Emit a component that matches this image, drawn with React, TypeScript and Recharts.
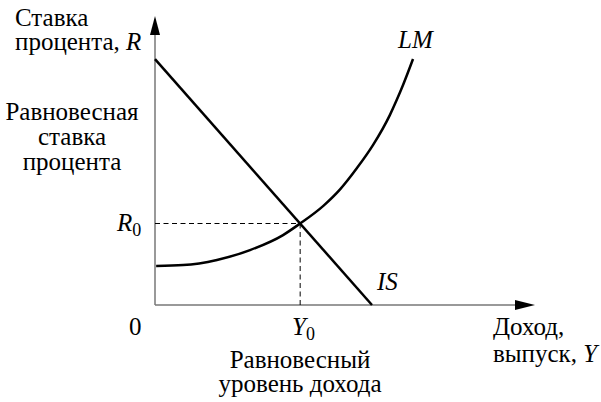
import React from 'react';
import { LineChart, Line, XAxis, YAxis, ReferenceLine, ReferenceDot } from 'recharts';

// Curve data (income Y on x, interest rate R on y)
const isIncome = [0, 5.71];
const isRate = [8.51, 0];
const lmIncome = [0.03, 0.74, 1.63, 2.5, 3.37, 3.82, 4.43, 4.87, 5.31, 5.74, 6.18, 6.36, 6.53, 6.79];
const lmRate = [1.35, 1.38, 1.56, 1.9, 2.42, 2.82, 3.43, 4.0, 4.73, 5.54, 6.57, 7.09, 7.62, 8.51];
const equilibriumY = 3.82;
const equilibriumR = 2.82;
const axisMax = 10;

const isData = isIncome.map((x, i) => ({ x, y: isRate[i] }));
const lmData = lmIncome.map((x, i) => ({ x, y: lmRate[i] }));

const W = 601;
const H = 402;
const FS = 25;

const UpArrow = (props: any) => {
  const { cx, cy } = props;
  return <polygon points={`${cx},${cy} ${cx - 5},${cy + 19} ${cx + 5},${cy + 19}`} fill="#000" />;
};
const RightArrow = (props: any) => {
  const { cx, cy } = props;
  return <polygon points={`${cx},${cy} ${cx - 20},${cy - 5} ${cx - 20},${cy + 5}`} fill="#000" />;
};

const it: React.CSSProperties = { fontStyle: 'italic' };
const sub: React.CSSProperties = { fontSize: 18, position: 'relative', top: 5 };

// baseline-positioned HTML label
const L = ({ x, y, center, children, style }: any) => (
  <div
    style={{
      position: 'absolute',
      left: x,
      top: y - 21,
      fontFamily: '"Liberation Serif"',
      fontSize: FS,
      lineHeight: `${FS}px`,
      whiteSpace: 'nowrap',
      color: '#000',
      transform: center ? 'translateX(-50%)' : undefined,
      ...(style || {}),
    }}
  >
    {children}
  </div>
);

export default function App() {
  return (
    <div style={{ position: 'absolute', left: 0, top: 0, width: W, height: H, background: '#fff' }}>
      <LineChart width={W} height={H} margin={{ top: 16, right: 66, bottom: 97, left: 155 }}>
        <XAxis type="number" dataKey="x" domain={[0, axisMax]} hide />
        <YAxis type="number" dataKey="y" domain={[0, axisMax]} hide />
        <ReferenceLine segment={[{ x: 0, y: 0 }, { x: axisMax - 0.3, y: 0 }]} stroke="#777" strokeWidth={1.5} ifOverflow="visible" />
        <ReferenceLine segment={[{ x: 0, y: 0 }, { x: 0, y: axisMax - 0.3 }]} stroke="#777" strokeWidth={1.5} ifOverflow="visible" />
        <ReferenceLine segment={[{ x: 0, y: equilibriumR }, { x: equilibriumY, y: equilibriumR }]} stroke="#000" strokeWidth={1} strokeDasharray="5 3.5" ifOverflow="visible" />
        <ReferenceLine segment={[{ x: equilibriumY, y: 0 }, { x: equilibriumY, y: equilibriumR }]} stroke="#000" strokeWidth={1} strokeDasharray="5 3.5" ifOverflow="visible" />
        <ReferenceDot x={0} y={axisMax} r={0} shape={UpArrow} ifOverflow="visible" />
        <ReferenceDot x={axisMax} y={0} r={0} shape={RightArrow} ifOverflow="visible" />
        <Line data={isData} dataKey="y" type="linear" stroke="#000" strokeWidth={2.5} dot={false} isAnimationActive={false} />
        <Line data={lmData} dataKey="y" type="monotone" stroke="#000" strokeWidth={2.5} dot={false} isAnimationActive={false} />
      </LineChart>
      <L x={15} y={26}>Ставка</L>
      <L x={15} y={50}>процента, <span style={it}>R</span></L>
      <L x={72} y={120} center>Равновесная</L>
      <L x={72} y={145} center>ставка</L>
      <L x={72} y={170} center>процента</L>
      <L x={117} y={231}><span style={it}>R</span><span style={sub}>0</span></L>
      <L x={398} y={48} style={it}>LM</L>
      <L x={377} y={290} style={it}>IS</L>
      <L x={129} y={335}>0</L>
      <L x={292} y={335}><span style={it}>Y</span><span style={sub}>0</span></L>
      <L x={300} y={368} center>Равновесный</L>
      <L x={300} y={392} center>уровень дохода</L>
      <L x={493} y={335}>Доход,</L>
      <L x={493} y={362}>выпуск, <span style={it}>Y</span></L>
    </div>
  );
}
